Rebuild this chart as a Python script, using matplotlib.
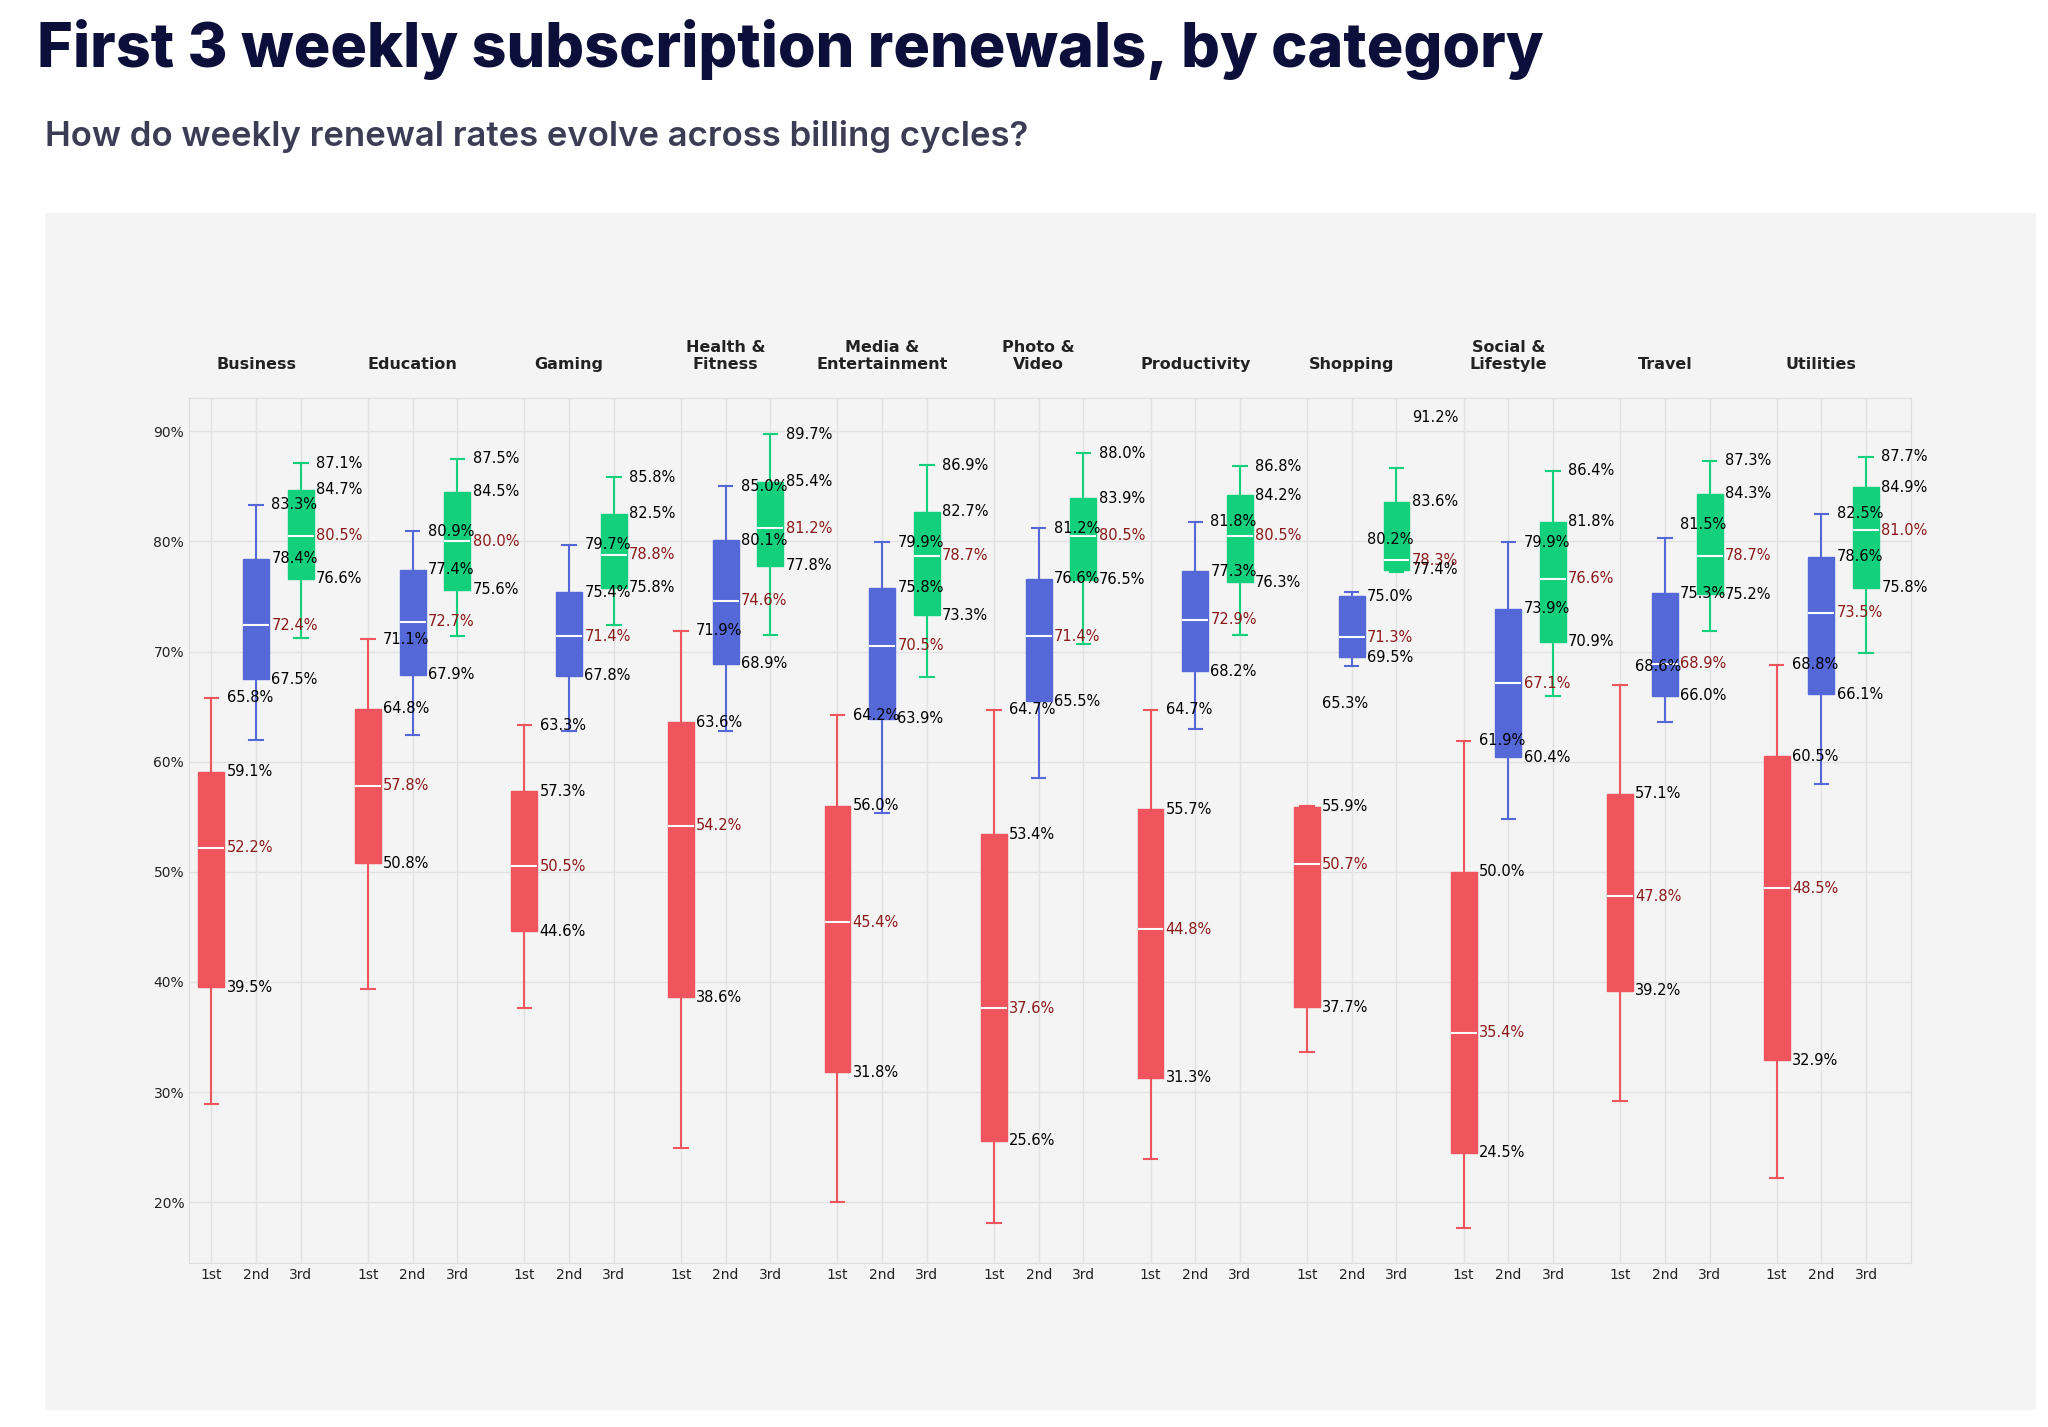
import matplotlib
matplotlib.use("Agg")
import matplotlib.pyplot as plt
from matplotlib.patches import Rectangle

categories = ["Business", "Education", "Gaming", "Health &\nFitness", "Media &\nEntertainment",
              "Photo &\nVideo", "Productivity", "Shopping", "Social &\nLifestyle", "Travel", "Utilities"]
cycles = ["1st", "2nd", "3rd"]
# per category: per cycle (whisker low, q1, median, q3, whisker high, labelled max)
stats = [
    [(28.9, 39.5, 52.2, 59.1, 65.8, 65.8), (62.0, 67.5, 72.4, 78.4, 83.3, 83.3), (71.2, 76.6, 80.5, 84.7, 87.1, 87.1)],
    [(39.4, 50.8, 57.8, 64.8, 71.1, 71.1), (62.4, 67.9, 72.7, 77.4, 80.9, 80.9), (71.4, 75.6, 80.0, 84.5, 87.5, 87.5)],
    [(37.6, 44.6, 50.5, 57.3, 63.3, 63.3), (62.8, 67.8, 71.4, 75.4, 79.7, 79.7), (72.4, 75.8, 78.8, 82.5, 85.8, 85.8)],
    [(24.9, 38.6, 54.2, 63.6, 71.9, 71.9), (62.8, 68.9, 74.6, 80.1, 85.0, 85.0), (71.5, 77.8, 81.2, 85.4, 89.7, 89.7)],
    [(20.0, 31.8, 45.4, 56.0, 64.2, 64.2), (55.3, 63.9, 70.5, 75.8, 79.9, 79.9), (67.7, 73.3, 78.7, 82.7, 86.9, 86.9)],
    [(18.1, 25.6, 37.6, 53.4, 64.7, 64.7), (58.5, 65.5, 71.4, 76.6, 81.2, 81.2), (70.7, 76.5, 80.5, 83.9, 88.0, 88.0)],
    [(23.9, 31.3, 44.8, 55.7, 64.7, 64.7), (63.0, 68.2, 72.9, 77.3, 81.8, 81.8), (71.5, 76.3, 80.5, 84.2, 86.8, 86.8)],
    [(33.6, 37.7, 50.7, 55.9, 56.0, 65.3), (68.7, 69.5, 71.3, 75.0, 75.4, 80.2), (77.2, 77.4, 78.3, 83.6, 86.7, 91.2)],
    [(17.7, 24.5, 35.4, 50.0, 61.9, 61.9), (54.8, 60.4, 67.1, 73.9, 79.9, 79.9), (66.0, 70.9, 76.6, 81.8, 86.4, 86.4)],
    [(29.2, 39.2, 47.8, 57.1, 67.0, 68.6), (63.6, 66.0, 68.9, 75.3, 80.3, 81.5), (71.9, 75.2, 78.7, 84.3, 87.3, 87.3)],
    [(22.2, 32.9, 48.5, 60.5, 68.8, 68.8), (58.0, 66.1, 73.5, 78.6, 82.5, 82.5), (69.9, 75.8, 81.0, 84.9, 87.7, 87.7)],
]
colors = ["#f0545c", "#5468d8", "#12d07c"]

fig = plt.figure(figsize=(20.48, 14.27), dpi=100)
fig.patch.set_facecolor("white")
bg = Rectangle((0.022, 0.012), 0.972, 0.839, transform=fig.transFigure,
               facecolor="#f4f4f4", edgecolor="none", zorder=-10)
fig.patches.append(bg)
fig.text(0.018, 0.944, "First 3 weekly subscription renewals, by category", fontsize=44,
         fontweight="heavy", color="#0c0f3a", family="Inter", va="bottom")
fig.text(0.022, 0.893, "How do weekly renewal rates evolve across billing cycles?", fontsize=25,
         fontweight="semibold", color="#3c3c55", family="Inter", va="bottom")

ax = fig.add_axes([0.0923, 0.115, 0.8407, 0.606])
ax.set_zorder(1)
ax.set_facecolor("#f4f4f4")
step = 3.5
w = 0.58
positions, labels = [], []
for g, cat in enumerate(categories):
    for c in range(3):
        x = g * step + c
        positions.append(x)
        labels.append(cycles[c])
        lo, q1, med, q3, hi, mx = stats[g][c]
        col = colors[c]
        bxp = [dict(whislo=lo, q1=q1, med=med, q3=q3, whishi=hi, fliers=[])]
        ax.bxp(bxp, positions=[x], widths=w, patch_artist=True, showfliers=False,
               boxprops=dict(facecolor=col, edgecolor=col, linewidth=1),
               medianprops=dict(color="white", linewidth=1.5),
               whiskerprops=dict(color=col, linewidth=1.5),
               capprops=dict(color=col, linewidth=1.5), capwidths=0.3, manage_ticks=False)
        tx = x + w / 2 + 0.05
        for v, tc in [(mx, "black"), (q3, "black"), (med, "#8b1a1a"), (q1, "black")]:
            ax.text(tx, v, f"{v:.1f}%", fontsize=10.5, color=tc, va="center", ha="left", zorder=5)
    ax.text(g * step + 1, 1.03, cat, transform=ax.get_xaxis_transform(), ha="center", va="bottom",
            fontsize=11.5, fontweight="bold", color="#222222")

ax.set_xticks(positions)
ax.set_xticklabels(labels, fontsize=10)
ax.set_xlim(-0.5, 38)
ax.set_ylim(14.5, 93)
yt = [20, 30, 40, 50, 60, 70, 80, 90]
ax.set_yticks(yt)
ax.set_yticklabels([f"{v}%" for v in yt], fontsize=10)
ax.tick_params(length=0, colors="#222222")
ax.grid(True, color="#e2e2e2", linewidth=1)
ax.set_axisbelow(True)
for s in ax.spines.values():
    s.set_color("#dddddd")

fig.savefig("out.png", dpi=100)
